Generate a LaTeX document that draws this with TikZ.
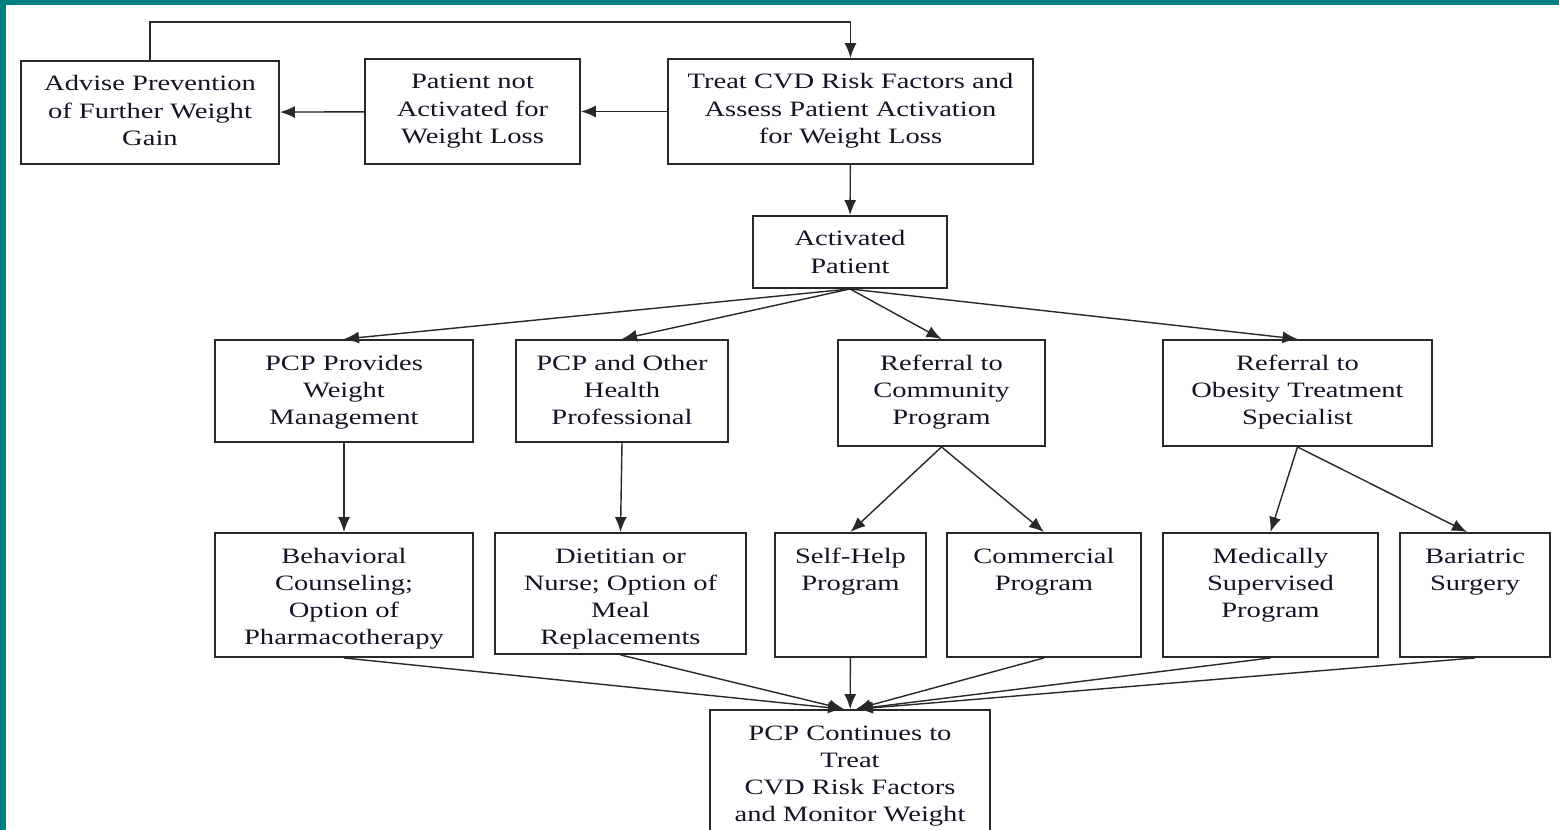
\documentclass[tikz,border=0pt]{standalone}
\usepackage{fontspec}
\setmainfont{Liberation Serif}[FakeStretch=1.3]
\usepackage{tikz}
\usetikzlibrary{arrows.meta,positioning}

\definecolor{frame}{RGB}{0,128,128}
\definecolor{ink}{RGB}{20,20,36}
\definecolor{edge}{RGB}{40,40,40}

% box text, top aligned
\newcommand{\boxtext}[3]{\parbox[c][#2][t]{#1}{\centering\rule{0pt}{0.6cm}#3}}

\begin{document}
\begin{tikzpicture}
  [
   x=0.02cm, y=-0.02cm,
   box/.style={draw=edge,line width=1.1pt,inner sep=0pt,text=ink,
               font=\fontsize{12.5}{15.4}\selectfont},
   arr/.style={-{Latex[length=3mm,width=2.4mm]},line width=0.8pt,draw=edge}
  ]
   \useasboundingbox (0,0) rectangle (1559,830);
   \fill[frame] (0,0) rectangle (1559,5);
   \fill[frame] (0,0) rectangle (6,830);

   % top row
   \node[box] (adv)   at (150,112.5) {\boxtext{5.16cm}{2.06cm}{Advise Prevention\\of Further Weight\\Gain}};
   \node[box] (pna)   at (472.5,111.5) {\boxtext{4.30cm}{2.10cm}{Patient not\\Activated for\\Weight Loss}};
   \node[box] (treat) at (850.5,111.5) {\boxtext{7.30cm}{2.10cm}{Treat CVD Risk Factors and\\Assess Patient Activation\\for Weight Loss}};
   \node[box] (act)   at (850,252) {\boxtext{3.88cm}{1.44cm}{Activated\\Patient}};

   % second row
   \node[box] (pcpw) at (344,391) {\boxtext{5.16cm}{2.04cm}{PCP Provides\\Weight\\Management}};
   \node[box] (pcph) at (622,391) {\boxtext{4.24cm}{2.04cm}{PCP and Other\\Health\\Professional}};
   \node[box] (refc) at (941.5,393) {\boxtext{4.14cm}{2.12cm}{Referral to\\Community\\Program}};
   \node[box] (refo) at (1297.5,393) {\boxtext{5.38cm}{2.12cm}{Referral to\\Obesity Treatment\\Specialist}};

   % third row
   \node[box] (beh)  at (344,595) {\boxtext{5.16cm}{2.48cm}{Behavioral\\Counseling;\\Option of\\Pharmacotherapy}};
   \node[box] (diet) at (620.5,593.5) {\boxtext{5.02cm}{2.42cm}{Dietitian or\\Nurse; Option of\\Meal\\Replacements}};
   \node[box] (self) at (850.5,595) {\boxtext{3.02cm}{2.48cm}{Self-Help\\Program}};
   \node[box] (comm) at (1044,595) {\boxtext{3.88cm}{2.48cm}{Commercial\\Program}};
   \node[box] (med)  at (1270.5,595) {\boxtext{4.30cm}{2.48cm}{Medically\\Supervised\\Program}};
   \node[box] (bar)  at (1475,595) {\boxtext{3.00cm}{2.48cm}{Bariatric\\Surgery}};

   \node[box] (cont) at (850,785) {\boxtext{5.60cm}{3.00cm}{PCP Continues to\\Treat\\CVD Risk Factors\\and Monitor Weight}};

   \draw[arr] (adv.north) -- ++(0,-38) -| (treat.north);
   \draw[arr] (treat) -- (pna);
   \draw[arr] (pna) -- (adv);
   \draw[arr] (treat) -- (act);

   \draw[arr] (act.south) -- (pcpw.north);
   \draw[arr] (act.south) -- (pcph.north);
   \draw[arr] (act.south) -- (refc.north);
   \draw[arr] (act.south) -- (refo.north);

   \draw[arr] (pcpw) -- (beh);
   \draw[arr] (pcph.south) -- (diet.north);
   \draw[arr] (refc.south) -- (self.north);
   \draw[arr] (refc.south) -- (comm.north);
   \draw[arr] (refo.south) -- (med.north);
   \draw[arr] (refo.south) -- ([xshift=-0.16cm]bar.north);

   \draw[arr] (beh.south)  -- ([xshift=-0.14cm]cont.north);
   \draw[arr] (diet.south) -- ([xshift=-0.12cm]cont.north);
   \draw[arr] (self)       -- (cont);
   \draw[arr] (comm.south) -- ([xshift=0.12cm]cont.north);
   \draw[arr] (med.south)  -- ([xshift=0.14cm]cont.north);
   \draw[arr] (bar.south)  -- ([xshift=0.16cm]cont.north);

\end{tikzpicture}
\end{document}
